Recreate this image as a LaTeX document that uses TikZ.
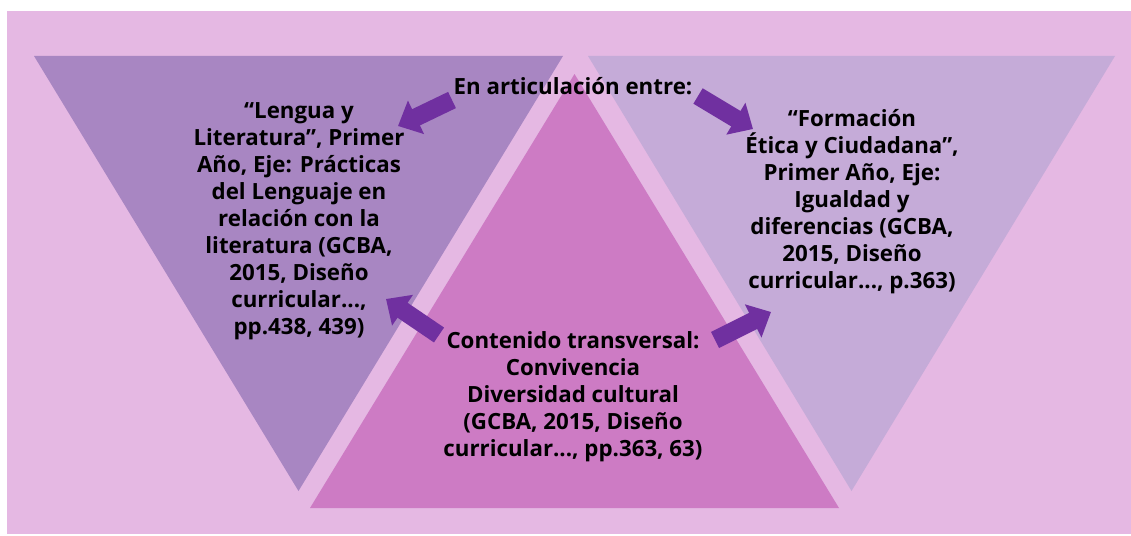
\documentclass[tikz,border=0pt]{standalone}
\usepackage{fontspec}
\setmainfont{Open Sans}
\usetikzlibrary{arrows.meta}
\definecolor{bgpink}{HTML}{E5B8E3}
\definecolor{lengua}{HTML}{A886C2}
\definecolor{formacion}{HTML}{C5ABD8}
\definecolor{contenido}{HTML}{CD7BC4}
\definecolor{flecha}{HTML}{7030A0}
\tikzset{
  txt/.style={align=center,inner sep=0pt,font=\fontsize{22.3}{27}\selectfont\bfseries},
  bigarrow/.style={flecha,line width=18pt,-{Triangle[width=36pt,length=20pt]}}
}
\begin{document}
\begin{tikzpicture}[x=1pt,y=-1pt]
\useasboundingbox (0,0) rectangle (1131,535);
\fill[white] (0,0) rectangle (1131,535);
\fill[bgpink] (7,11) rectangle (1131,534);
% the three triangles
\fill[lengua] (34,56) -- (563,56) -- (298.5,491) -- cycle;
\fill[formacion] (588,56) -- (1115,56) -- (851.5,491) -- cycle;
\fill[contenido] (574.5,74) -- (839,508) -- (310,508) -- cycle;
% texts
\node[txt] (art) at (573,86) {En articulación entre:};
\node[txt] (lengua) at (299,221) {“Lengua y\\Literatura”, Primer\\Año, Eje: Prácticas\\del Lenguaje en\\relación con la\\literatura (GCBA,\\2015, Diseño\\curricular...,\\pp.438, 439)};
\node[txt] (formacion) at (852,202) {“Formación\\Ética y Ciudadana”,\\Primer Año, Eje:\\Igualdad y\\diferencias (GCBA,\\2015, Diseño\\curricular..., p.363)};
\node[txt] (contenido) at (573,397) {Contenido transversal:\\Convivencia\\Diversidad cultural\\(GCBA, 2015, Diseño\\curricular..., pp.363, 63)};
% arrows
\coordinate (a1) at (452,100); \coordinate (b1) at (398,126);
\coordinate (a2) at (698,96);  \coordinate (b2) at (753,129);
\coordinate (a3) at (439,335); \coordinate (b3) at (386,299);
\coordinate (a4) at (715,340); \coordinate (b4) at (771,312);
\draw[bigarrow] (a1) -- (b1);
\draw[bigarrow] (a2) -- (b2);
\draw[bigarrow] (a3) -- (b3);
\draw[bigarrow] (a4) -- (b4);
\end{tikzpicture}
\end{document}
